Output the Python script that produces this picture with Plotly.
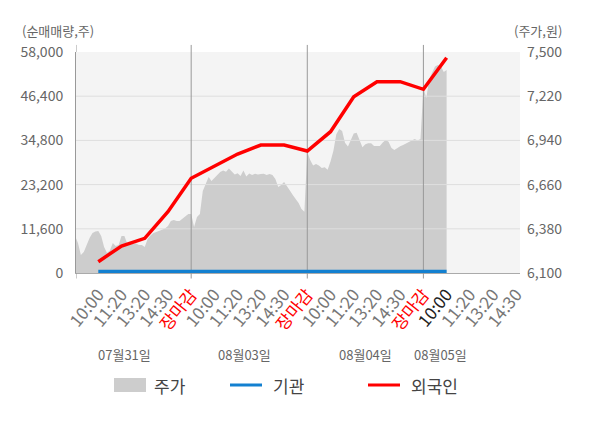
import plotly.graph_objects as go
import numpy as np

# trading days and intraday tick labels
days = ['07월31일', '08월03일', '08월04일', '08월05일']
session_ticks = ['10:00', '11:20', '13:20', '14:30', '장마감']

# share price (right axis, won), sampled every 1/8 of a tick interval
price_d1 = [6334, 6290, 6214, 6233, 6277, 6322, 6353, 6363, 6366, 6334,
            6265, 6227, 6243, 6290, 6271, 6277, 6334, 6334, 6284, 6290,
            6284, 6287, 6277, 6277, 6265, 6315, 6338, 6353, 6360, 6366,
            6376, 6382, 6398, 6429, 6436, 6429, 6429, 6445, 6461, 6474]
price_d2 = [6474, 6391, 6455, 6474, 6619, 6670, 6708, 6683, 6702, 6727,
            6740, 6749, 6742, 6762, 6746, 6724, 6732, 6714, 6749, 6711,
            6730, 6721, 6728, 6724, 6727, 6728, 6721, 6727, 6721, 6695,
            6645, 6657, 6676, 6645, 6623, 6594, 6566, 6543, 6505, 6488]
price_d3 = [6867, 6816, 6781, 6791, 6781, 6765, 6770, 6754, 6806, 6875,
            6979, 7012, 7000, 6925, 6902, 6941, 6984, 6988, 6945, 6896,
            6915, 6922, 6922, 6905, 6905, 6905, 6927, 6943, 6932, 6892,
            6879, 6892, 6903, 6911, 6921, 6930, 6939, 6949, 6939, 6949]
price_d4 = [7272, 7209, 7329, 7373, 7408, 7418, 7411, 7373, 7386]

# net buying volume (left axis, shares) at each tick
foreign = [2970, 7090, 9110, 16090, 24850, 28080, 31230, 33590, 33590, 32020,
           37080, 46270, 50210, 50210, 48210, 56500]
institution = [350] * 16

left_ticks = [0, 11600, 23200, 34800, 46400, 58000]
right_ticks = [6100, 6380, 6660, 6940, 7220, 7500]

XR = [0.04, 19.16]
per_day = len(session_ticks)

# price x positions: day index * ticks per day + sample step
px, py = [], []
for d, vals in enumerate([price_d1, price_d2, price_d3, price_d4]):
    px += list(d * per_day + np.arange(len(vals)) * 0.125)
    py += vals

flow_x = list(np.arange(1, len(foreign) + 1))

# tick labels along the bottom
tickvals, ticktext = [], []
for d in range(len(days)):
    for k, lab in enumerate(session_ticks):
        v = d * per_day + k + 1
        if v > XR[1]:
            continue
        if lab == '장마감':
            lab = '<span style="color:#ff0000">장마감</span>'
        elif d == len(days) - 1 and k == 0:
            lab = '<span style="color:#222222">%s</span>' % lab
        tickvals.append(v)
        ticktext.append(lab)

fig = go.Figure()

# price area (primary y, right side)
fig.add_trace(go.Scatter(x=px, y=py, mode='lines', line=dict(width=0),
                         fill='tozeroy', fillcolor='#cdcdcd', yaxis='y',
                         hoverinfo='skip', showlegend=False))

# horizontal grid drawn over the area
gx, gy = [], []
for t in left_ticks[1:-1]:
    gx += [XR[0], XR[1], None]
    gy += [t, t, None]
fig.add_trace(go.Scatter(x=gx, y=gy, mode='lines', yaxis='y2',
                         line=dict(color='#dedede', width=1),
                         hoverinfo='skip', showlegend=False))

# day separators
bounds = [per_day * (d + 1) for d in range(len(days) - 1)]
vx, vy = [], []
for b in bounds:
    vx += [b, b, None]
    vy += [0, 58000, None]
fig.add_trace(go.Scatter(x=vx, y=vy, mode='lines', yaxis='y2',
                         line=dict(color='#999999', width=1),
                         hoverinfo='skip', showlegend=False))

fig.add_trace(go.Scatter(x=flow_x, y=institution, mode='lines', yaxis='y2',
                         name='기관', line=dict(color='#1380d0', width=4),
                         showlegend=False))
fig.add_trace(go.Scatter(x=flow_x, y=foreign, mode='lines', yaxis='y2',
                         name='외국인', line=dict(color='#ff0000', width=3.5),
                         showlegend=False))

# tick stubs above and below the plot for the separators and left axis
shapes = []
for b in [XR[0]] + bounds:
    shapes.append(dict(type='line', xref='x', yref='paper', x0=b, x1=b,
                       y0=-0.025, y1=0, line=dict(color='#999999', width=1)))
    shapes.append(dict(type='line', xref='x', yref='paper', x0=b, x1=b,
                       y0=1, y1=1.032, line=dict(color='#999999', width=1)))

# legend drawn by hand
shapes.append(dict(type='rect', xref='paper', yref='paper',
                   x0=(114 - 76) / 444, x1=(146 - 76) / 444,
                   y0=(273 - 392) / 221, y1=(273 - 378) / 221,
                   fillcolor='#cdcdcd', line=dict(width=0)))
shapes.append(dict(type='line', xref='paper', yref='paper',
                   x0=(230 - 76) / 444, x1=(262 - 76) / 444,
                   y0=(273 - 385) / 221, y1=(273 - 385) / 221,
                   line=dict(color='#1380d0', width=3)))
shapes.append(dict(type='line', xref='paper', yref='paper',
                   x0=(368 - 76) / 444, x1=(400 - 76) / 444,
                   y0=(273 - 385) / 221, y1=(273 - 385) / 221,
                   line=dict(color='#ff0000', width=3)))

annotations = []
for name, xpx in [('주가', 152), ('기관', 271), ('외국인', 409)]:
    annotations.append(dict(text=name, xref='paper', yref='paper',
                            x=(xpx - 76) / 444, y=(273 - 385) / 221,
                            xanchor='left', yanchor='middle', showarrow=False,
                            font=dict(size=17, color='#444444')))

date_pos = [2.13, 7.30, 12.49, 15.74]
for lab, xv in zip(days, date_pos):
    annotations.append(dict(text=lab, xref='x', yref='paper', x=xv,
                            y=(273 - 354) / 221, xanchor='center',
                            yanchor='middle', showarrow=False,
                            font=dict(size=13, color='#666666')))

annotations.append(dict(text='(순매매량,주)', xref='paper', yref='paper',
                        x=(20 - 76) / 444, y=(273 - 31) / 221, xanchor='left',
                        yanchor='middle', showarrow=False,
                        font=dict(size=13, color='#666666')))
annotations.append(dict(text='(주가,원)', xref='paper', yref='paper',
                        x=(564 - 76) / 444, y=(273 - 31) / 221, xanchor='right',
                        yanchor='middle', showarrow=False,
                        font=dict(size=13, color='#666666')))

# the page body adds an 8px offset, so the figure is 8px smaller
fig.update_layout(
    width=592, height=420,
    margin=dict(l=68, r=80, t=44, b=155, autoexpand=False),
    paper_bgcolor='white',
    plot_bgcolor='#f4f4f4',
    font=dict(family='Noto Sans CJK KR', color='#666666'),
    showlegend=False,
    xaxis=dict(range=XR, tickvals=tickvals, ticktext=ticktext,
               tickangle=-51, tickfont=dict(size=17, color='#777777'),
               showgrid=False, zeroline=False, showline=True,
               linecolor='#aaaaaa', ticks='', ticklabelstandoff=4,
               automargin=False),
    yaxis=dict(range=[6100, 7500], tickvals=right_ticks,
               ticktext=['{:,}'.format(v) for v in right_ticks],
               side='right', showgrid=False, zeroline=False,
               tickfont=dict(size=14, color='#666666'), ticklabelstandoff=6,
               automargin=False),
    yaxis2=dict(range=[0, 58000], tickvals=left_ticks,
                ticktext=['{:,}'.format(v) for v in left_ticks],
                side='left', overlaying='y', showgrid=False, zeroline=False,
                showline=True, linecolor='#999999',
                tickfont=dict(size=14, color='#666666'), ticklabelstandoff=9,
                automargin=False),
    shapes=shapes,
    annotations=annotations,
)

fig.write_html('out.html')
